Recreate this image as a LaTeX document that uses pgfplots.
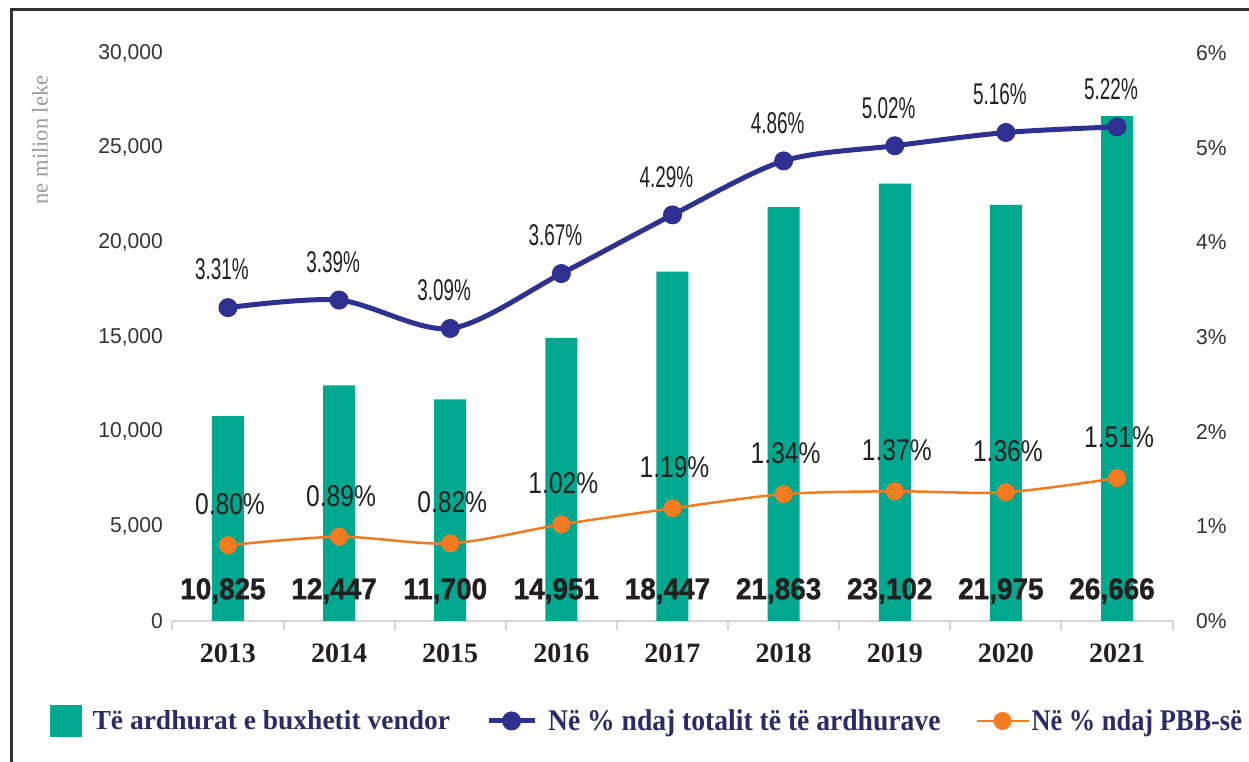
\documentclass[border=0pt]{standalone}
\usepackage{pgfplots}
\pgfplotsset{compat=1.18}
\usepackage{fontspec}
\setmainfont{Liberation Sans}
\newfontfamily\tickfont{Liberation Sans}[FakeStretch=0.98]
\newfontfamily\barfont{Liberation Sans}[FakeStretch=0.93,FakeBold=1.2]
\newfontfamily\bluefont{Liberation Sans}[FakeStretch=0.63]
\newfontfamily\orangefont{Liberation Sans}[FakeStretch=0.82]
\newfontfamily\serif{Liberation Serif}
\newfontfamily\legserif{Liberation Serif}[FakeStretch=0.92]
\newfontfamily\legserifb{Liberation Serif}[FakeStretch=0.88]
\definecolor{barteal}{HTML}{00A88F}
\definecolor{lineblue}{HTML}{2E3192}
\definecolor{lineorange}{HTML}{F47B20}
\definecolor{txt}{HTML}{231F20}
\definecolor{navy}{HTML}{2B2A6B}
\definecolor{ticktxt}{HTML}{333333}
\definecolor{ylab}{HTML}{9B9B9B}
\definecolor{axisgray}{HTML}{D6D6D6}

\pgfplotstableread{
x y
0 10825
1 12447
2 11700
3 14951
4 18447
5 21863
6 23102
7 21975
8 26666
}\bars
\pgfplotstableread{
x y lab
0 1584 10,825
1 1584 12,447
2 1584 11,700
3 1584 14,951
4 1584 18,447
5 1584 21,863
6 1584 23,102
7 1584 21,975
8 1584 26,666
}\barlabels
\pgfplotstableread{
x y
0 3.31
1 3.39
2 3.09
3 3.67
4 4.29
5 4.86
6 5.02
7 5.16
8 5.22
}\blue
\pgfplotstableread{
x y
0 0.80
1 0.89
2 0.82
3 1.02
4 1.19
5 1.34
6 1.37
7 1.36
8 1.51
}\orange

\begin{document}
\begin{tikzpicture}[x=1pt,y=1pt]
\useasboundingbox (0,0) rectangle (1249,762);
\draw[line width=3pt, color=black!80] (11,0) -- (11,752) -- (1249,752);
\node[rotate=90, font=\serif\fontsize{22.5}{24}\selectfont, text=ylab] at (40,622) {ne milion leke};

\begin{axis}[
  at={(172.4pt,141pt)}, anchor=south west,
  scale only axis, width=1000.2pt, height=568pt,
  xmin=-0.5, xmax=8.5, ymin=0, ymax=30000,
  axis lines*=left,
  x axis line style={draw=axisgray, line width=2.5pt},
  y axis line style={draw=none},
  xtick={-0.5,0.5,...,8.5}, xticklabel={\phantom{0}},
  tick align=outside, major tick length=9pt,
  xtick style={draw=axisgray, line width=2pt},
  ytick={0,5000,...,30000}, ytick style={draw=none},
  extra x ticks={0,1,...,8},
  extra x tick labels={2013,2014,2015,2016,2017,2018,2019,2020,2021},
  extra x tick style={major tick length=0pt, xticklabel style={font=\serif\bfseries\fontsize{28}{30}\selectfont, text=txt, yshift=-19pt}},
  scaled y ticks=false,
  yticklabel style={font=\tickfont\fontsize{21.5}{24}\selectfont, text=ticktxt, xshift=3pt, /pgf/number format/1000 sep={,}},
  /pgf/number format/assume math mode=true,
  clip=false,
]
\addplot[ybar, bar width=32pt, fill=barteal, draw=none] table[x=x,y=y] {\bars};
\addplot[draw=none, mark=none, point meta=explicit symbolic,
  nodes near coords={\pgfplotspointmeta},
  every node near coord/.append style={font=\barfont\bfseries\fontsize{30}{32}\selectfont, text=txt, anchor=center, xshift=-5pt}]
  table[x=x,y=y,meta=lab] {\barlabels};
\end{axis}

\begin{axis}[
  at={(172.4pt,141pt)}, anchor=south west,
  scale only axis, width=1000.2pt, height=568pt,
  xmin=-0.5, xmax=8.5, ymin=0, ymax=6,
  axis x line=none, axis y line*=right,
  y axis line style={draw=none},
  ytick={0,1,...,6}, ytick style={draw=none},
  yticklabel={\pgfmathprintnumber{\tick}\%},
  yticklabel style={font=\tickfont\fontsize{21.5}{24}\selectfont, text=ticktxt, anchor=west, xshift=20pt},
  /pgf/number format/assume math mode=true,
  clip=false,
  legend columns=3,
  legend style={at={(axis description cs:-0.1224,-0.176)}, anchor=west, draw=none, fill=none,
    inner sep=0pt, nodes={inner sep=0pt}, text=navy,
    /tikz/every odd column/.append style={column sep=11pt},
    /tikz/every even column/.append style={column sep=36pt}},
  legend cell align=left,
]
\addlegendimage{legend image code/.code={\fill[barteal] (0pt,-15.5pt) rectangle (31pt,15.5pt);}}
\addlegendentry{\serif\bfseries\fontsize{27.5}{30}\selectfont Të ardhurat e buxhetit vendor}
\addplot[lineblue, line width=5pt, smooth, mark=*, mark size=9pt,
  mark options={solid, fill=lineblue, draw=lineblue, line width=1pt},
  legend image code/.code={\draw[mark repeat=2,mark phase=2] plot coordinates {(0pt,0pt) (23pt,0pt) (46pt,0pt)};},
  nodes near coords={\pgfmathprintnumber[fixed,fixed zerofill,precision=2]{\pgfplotspointmeta}\%},
  every node near coord/.append style={font=\bluefont\fontsize{30}{32}\selectfont, text=txt, anchor=center, xshift=-6pt, yshift=38pt}]
  table[x=x,y=y] {\blue};
\addlegendentry{\legserif\bfseries\fontsize{30}{32}\selectfont Në \% ndaj totalit të të ardhurave}
\addplot[lineorange, line width=2.5pt, smooth, mark=*, mark size=8.5pt,
  mark options={solid, fill=lineorange, draw=lineorange, line width=1pt},
  legend image code/.code={\draw[overlay,mark repeat=2,mark phase=2] plot coordinates {(0pt,0pt) (26pt,0pt) (52pt,0pt)}; \path[draw=none,fill=none] (0pt,-9pt) (44pt,9pt);},
  nodes near coords={\pgfmathprintnumber[fixed,fixed zerofill,precision=2]{\pgfplotspointmeta}\%},
  every node near coord/.append style={font=\orangefont\fontsize{30}{32}\selectfont, text=txt, anchor=center, xshift=2pt, yshift=41pt}]
  table[x=x,y=y] {\orange};
\addlegendentry{\legserifb\bfseries\fontsize{30}{32}\selectfont Në \% ndaj PBB-së}
\end{axis}
\end{tikzpicture}
\end{document}
